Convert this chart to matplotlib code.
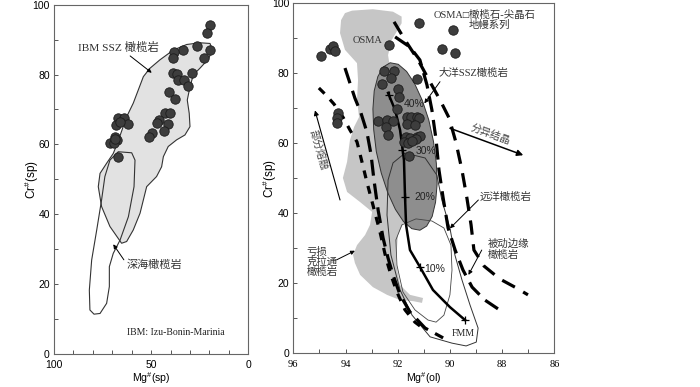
import matplotlib
matplotlib.use("Agg")
import matplotlib.pyplot as plt
from matplotlib.patches import Polygon

plt.rcParams['font.family'] = ['Liberation Sans', 'Noto Sans CJK SC', 'DejaVu Sans']
plt.rcParams['mathtext.default'] = 'regular'

CJK = ['Noto Sans CJK SC', 'DejaVu Sans']
SERIF_CJK = ['Liberation Serif', 'Noto Sans CJK SC', 'DejaVu Sans']

# ---------------- Left panel data: Mg#(sp) vs Cr#(sp) ----------------
ibm_mg = [19.7, 21.4, 19.7, 22.8, 26.2, 33.4, 38.3, 38.6, 29.2, 38.9, 36.9, 36.0,
          33.1, 30.9, 40.6, 37.7, 42.9, 40.3, 41.2, 43.4, 45.8, 47.2, 49.7, 51.1,
          66.9, 64.0, 68.1, 61.7, 66.0, 71.2, 68.6, 67.4, 69.1, 67.2, 68.6]
ibm_cr = [94.2, 91.8, 87.0, 84.6, 88.2, 87.0, 86.5, 84.6, 80.5, 80.3, 80.2, 78.4,
          78.4, 76.7, 75.1, 73.0, 68.9, 68.9, 65.8, 63.9, 67.0, 66.0, 63.2, 62.2,
          67.5, 67.5, 65.6, 65.8, 66.5, 60.3, 62.2, 61.3, 60.5, 56.3, 61.5]

ssz_field_mg = [65.2, 71.2, 75.5, 77.2, 76.3, 72.9, 69.5, 67.4, 62.6, 59.2, 56.6, 54.0,
                50.6, 45.5, 38.6, 31.7, 24.9, 19.7, 18.4, 20.6, 24.9, 28.3, 30.0, 31.4,
                30.4, 30.0, 32.6, 36.9, 41.2, 43.7, 44.6, 47.2, 52.3, 54.0, 55.7, 59.2, 62.6]
ssz_field_cr = [31.7, 36.5, 42.2, 47.9, 51.7, 54.6, 57.4, 60.3, 67.9, 71.8, 75.6, 79.4,
                81.8, 84.2, 87.0, 88.6, 89.1, 88.9, 87.0, 84.4, 81.8, 79.9, 76.5, 72.7,
                68.9, 65.1, 62.7, 61.3, 59.4, 56.5, 53.6, 50.8, 47.9, 44.1, 40.3, 35.5, 32.2]

abyssal_field_mg = [66.9, 60.0, 58.3, 58.8, 61.7, 66.0, 69.5, 71.5, 71.5, 72.9, 76.3,
                    79.4, 81.5, 81.8, 80.6, 78.0, 75.5, 73.8, 71.2]
abyssal_field_cr = [57.9, 57.6, 55.5, 47.9, 39.3, 32.6, 28.8, 25.0, 19.3, 14.5, 11.6,
                    11.4, 12.6, 18.3, 26.9, 35.5, 44.1, 50.8, 55.5]

# ---------------- Right panel data: Mg#(ol) vs Cr#(sp) ----------------
ssz_ol_mg = [94.95, 94.59, 94.46, 94.40, 91.20, 89.87, 90.30, 89.79, 92.33, 91.27,
             92.52, 92.16, 92.26, 92.59, 91.98, 91.95, 92.03, 94.28, 94.31, 94.31,
             92.74, 92.42, 92.17, 92.45, 92.39, 91.66, 91.51, 91.27, 91.17, 91.66,
             91.34, 91.68, 91.53, 91.27, 91.15, 91.30, 91.76, 91.59, 91.46, 91.57]
ssz_ol_cr = [84.8, 86.8, 87.7, 86.5, 94.5, 92.4, 86.9, 85.8, 88.2, 78.5,
             80.7, 80.6, 78.6, 77.0, 75.4, 73.2, 69.7, 68.7, 67.1, 65.9,
             66.5, 66.7, 66.5, 64.7, 62.5, 67.4, 67.4, 67.4, 67.1, 65.4,
             65.2, 61.9, 61.5, 61.9, 62.1, 61.1, 60.5, 60.0, 60.7, 56.4]

osma_field_mg = [94.02, 93.75, 92.95, 92.18, 91.85, 91.85, 92.04, 92.23, 92.37, 92.10,
                 91.91, 91.76, 91.68, 91.99, 92.07, 91.91, 91.53, 91.03, 91.07, 91.41,
                 91.91, 92.41, 92.95, 93.44, 93.64, 93.71, 93.56, 93.25, 93.06, 92.98,
                 93.44, 93.94, 94.10, 93.94, 93.83, 93.67, 93.48, 93.56, 93.52, 93.56,
                 94.02, 94.21, 94.17]
osma_field_cr = [97.2, 97.9, 98.3, 97.6, 96.2, 94.3, 91.9, 89.5, 85.2, 72.4,
                 58.1, 43.8, 38.7, 33.8, 26.1, 19.5, 16.7, 15.8, 14.4, 14.9,
                 15.2, 16.7, 18.9, 22.4, 25.8, 28.1, 30.9, 33.8, 36.7, 40.4,
                 43.2, 46.1, 50.1, 54.7, 60.9, 64.7, 67.5, 72.4, 78.1, 82.9,
                 86.7, 91.5, 95.2]

ocean_ssz_mg = [91.15, 90.89, 90.68, 90.55, 90.49, 90.52, 90.63, 90.81, 91.06, 91.35,
                91.66, 91.98, 92.29, 92.55, 92.76, 92.90, 92.95, 92.92, 92.82, 92.63,
                92.38, 92.09, 91.78, 91.46]
ocean_ssz_cr = [35.16, 36.35, 39.09, 43.19, 48.37, 54.28, 60.53, 66.68, 72.30, 77.02,
                80.53, 82.57, 83.01, 81.82, 79.08, 74.98, 69.80, 63.89, 57.64, 51.49,
                45.87, 41.15, 37.65, 35.60]

abyssal_ol_mg = [91.72, 90.95, 90.50, 90.31, 90.00, 89.81, 89.54, 89.23, 88.92, 88.99,
                 89.38, 89.92, 90.76, 91.45, 91.91, 92.26, 92.41, 92.37, 92.18]
abyssal_ol_cr = [57.2, 55.8, 50.9, 43.8, 35.8, 28.1, 21.0, 13.8, 7.2, 3.2,
                 2.1, 2.9, 4.7, 10.9, 18.1, 28.1, 39.5, 49.5, 54.4]

inner_field_mg = [91.30, 90.69, 90.23, 89.96, 89.92, 90.00, 90.23, 90.53, 90.84, 91.34,
                  91.80, 92.03, 92.07, 91.84]
inner_field_cr = [38.4, 37.8, 35.8, 30.9, 23.8, 16.7, 10.9, 8.9, 9.5, 12.4,
                  17.5, 25.2, 32.4, 36.7]

melt_mg = [92.37, 92.10, 91.91, 91.76, 91.72, 91.68, 91.53, 91.15, 90.65, 90.00, 89.42]
melt_cr = [74.4, 69.5, 63.8, 55.2, 44.7, 36.7, 29.5, 24.7, 18.1, 13.2, 9.5]
melt_tick_mg = [92.33, 91.84, 91.72, 91.15, 89.42]
melt_tick_cr = [73.8, 58.1, 44.7, 24.7, 9.5]
melt_labels = ['40%', '30%', '20%', '10%']
melt_label_mg = [91.38, 90.92, 90.95, 90.58]
melt_label_cr = [71.2, 57.8, 44.7, 24.1]

dashP_mg = [95.02, 94.75, 94.44, 94.10, 93.83, 93.56, 93.37, 93.18, 92.95, 92.68,
            92.45, 92.26, 92.03, 91.72, 91.34, 90.95]
dashP_cr = [75.8, 73.8, 71.2, 67.5, 63.8, 60.4, 54.7, 48.9, 42.4, 34.7,
            27.2, 22.4, 17.5, 12.4, 8.9, 6.7]
dashQ_mg = [94.02, 93.83, 93.64, 93.41, 93.18, 93.02, 92.91, 92.75, 92.56, 92.37,
            92.18, 91.91, 91.53, 90.95, 90.26]
dashQ_cr = [81.5, 77.2, 72.9, 68.7, 63.2, 56.7, 49.5, 40.9, 32.9, 27.2,
            22.4, 16.7, 11.8, 7.2, 4.4]
dashR1_mg = [92.10, 91.53, 91.15, 90.88, 90.69, 90.53, 90.42, 90.26, 90.07, 89.80,
             89.50, 89.15, 88.66, 88.16]
dashR1_cr = [90.4, 87.5, 83.8, 76.7, 69.5, 61.0, 52.4, 44.4, 35.8, 29.5,
             23.8, 18.9, 15.2, 12.7]
dashR2_mg = [92.14, 91.72, 91.22, 90.76, 90.38, 90.03, 89.77, 89.54, 89.35, 89.19,
             89.08, 88.69, 88.08, 87.51, 87.01]
dashR2_cr = [94.7, 89.5, 83.8, 77.5, 72.4, 67.2, 60.3, 52.4, 44.4, 36.7,
             29.5, 24.9, 21.2, 18.9, 16.7]

# ---------------- Figure ----------------
fig = plt.figure(figsize=(7.0, 3.87), dpi=100)
ax1 = fig.add_axes([0.0771, 0.0853, 0.2776, 0.9026])
ax2 = fig.add_axes([0.419, 0.0871, 0.3729, 0.9044])

for ax in (ax1, ax2):
    for s in ax.spines.values():
        s.set_color('#666666')
        s.set_linewidth(0.8)
    ax.tick_params(which='both', direction='in', color='#555555', width=0.7,
                   labelsize=7.5)
    ax.tick_params(axis='x', which='both', pad=4.5)
    ax.tick_params(axis='y', which='both', pad=3)
    ax.tick_params(which='major', length=3)
    ax.tick_params(which='minor', length=3)

# ----- Left panel -----
ax1.set_xlim(100, 0)
ax1.set_ylim(0, 100)
ax1.set_xticks([100, 50, 0])
ax1.set_xticks(range(0, 101, 10), minor=True)
ax1.set_yticks(range(0, 101, 20))
ax1.set_yticks(range(0, 101, 10), minor=True)

ax1.add_patch(Polygon(list(zip(ssz_field_mg, ssz_field_cr)), closed=True,
                      facecolor='#e2e2e2', edgecolor='#333333', lw=0.8, zorder=1))
ax1.add_patch(Polygon(list(zip(abyssal_field_mg, abyssal_field_cr)), closed=True,
                      facecolor='none', edgecolor='#333333', lw=0.8, zorder=2))
ax1.scatter(ibm_mg, ibm_cr, s=46, facecolor='#3d3d3d', edgecolor='#1c1c1c',
            lw=0.6, zorder=3)

ax1.annotate('IBM SSZ 橄榄岩', xy=(49.7, 80.5), xytext=(87.6, 87.7),
             ha='left', va='center', fontsize=8.2, family=SERIF_CJK, color='#333333',
             arrowprops=dict(arrowstyle='-|>', color='k', lw=0.7, mutation_scale=6,
                             shrinkA=0, shrinkB=0, relpos=(0.6, 0.0)))
ax1.annotate('深海橄榄岩', xy=(69.5, 31.4), xytext=(62.6, 25.5),
             ha='left', va='center', fontsize=8, family=CJK, color='#333333',
             arrowprops=dict(arrowstyle='-|>', color='k', lw=0.7, mutation_scale=6,
                             shrinkA=0, shrinkB=0, relpos=(0.0, 0.6)))
ax1.text(62.6, 6.1, 'IBM: Izu-Bonin-Marinia', ha='left', va='center',
         fontsize=7, family=['Liberation Serif'], color='#222222')

ax1.set_xlabel(r'Mg$^{\#}$(sp)', fontsize=7.6)
ax1.set_ylabel(r'Cr$^{\#}$(sp)', fontsize=8.5)
ax1.xaxis.set_label_coords(0.5, -0.07)
ax1.xaxis.label.set_va('center')
ax1.yaxis.set_label_coords(-0.113, 0.5)
ax1.yaxis.label.set_va('center')

# ----- Right panel -----
ax2.set_xlim(96, 86)
ax2.set_ylim(0, 100)
ax2.set_xticks(range(86, 97, 2))
ax2.set_xticks(range(86, 97, 1), minor=True)
ax2.set_yticks(range(0, 101, 20))
ax2.set_yticks(range(0, 101, 10), minor=True)
for lab in ax2.get_xticklabels():
    lab.set_fontfamily('Liberation Serif')
    lab.set_fontsize(7.5)

ax2.add_patch(Polygon(list(zip(osma_field_mg, osma_field_cr)), closed=True,
                      facecolor='#c6c6c6', edgecolor='none', zorder=1))
ax2.add_patch(Polygon(list(zip(ocean_ssz_mg, ocean_ssz_cr)), closed=True,
                      facecolor='#8e8e8e', edgecolor='#333333', lw=0.7, zorder=2))
ax2.add_patch(Polygon(list(zip(abyssal_ol_mg, abyssal_ol_cr)), closed=True,
                      facecolor='none', edgecolor='#333333', lw=0.7, zorder=3))
ax2.add_patch(Polygon(list(zip(inner_field_mg, inner_field_cr)), closed=True,
                      facecolor='none', edgecolor='#444444', lw=0.6, zorder=3))

dash_kw = dict(color='k', lw=2.3, solid_capstyle='butt', dash_capstyle='butt', zorder=4)
ax2.plot(dashP_mg, dashP_cr, linestyle=(0, (2.5, 2.5)), **dash_kw)
ax2.plot(dashQ_mg, dashQ_cr, linestyle=(0, (5, 2.5)), **dash_kw)
ax2.plot(dashR1_mg, dashR1_cr, linestyle=(0, (5, 2.5)), **dash_kw)
ax2.plot(dashR2_mg, dashR2_cr, linestyle=(0, (4.5, 3)), **dash_kw)

ax2.plot(melt_mg, melt_cr, color='k', lw=1.8, zorder=5)
ax2.scatter(melt_tick_mg, melt_tick_cr, marker='+', s=40, color='k', lw=0.9, zorder=6)
for lab, x, y in zip(melt_labels, melt_label_mg, melt_label_cr):
    ax2.text(x, y, lab, ha='center', va='center', fontsize=7.5, color='#222222', zorder=7)
ax2.text(89.49, 5.7, 'FMM', ha='center', va='center', fontsize=7,
         family=['Liberation Serif'], color='#222222', zorder=7)

ax2.scatter(ssz_ol_mg, ssz_ol_cr, s=46, facecolor='#3d3d3d', edgecolor='#1c1c1c',
            lw=0.6, zorder=6)

ax2.text(93.16, 89.5, 'OSMA', ha='center', va='center', fontsize=7.5,
         family=['Liberation Serif'], color='#333333', zorder=7)
ax2.text(90.64, 96.7, 'OSMA□橄榄石-尖晶石', ha='left', va='center', fontsize=7.5,
         family=SERIF_CJK, color='#333333')
ax2.text(89.3, 93.9, '地幔系列', ha='left', va='center', fontsize=7.5,
         family=CJK, color='#333333')

arr = dict(arrowstyle='-|>', color='k', lw=0.7, mutation_scale=6, shrinkA=0, shrinkB=0)
ax2.annotate('', xy=(90.98, 71.4), xytext=(90.38, 77.6), arrowprops=arr, zorder=8)
ax2.text(90.44, 80.0, '大洋SSZ橄榄岩', ha='left', va='center', fontsize=7.5,
         family=SERIF_CJK, color='#333333')

ax2.annotate('', xy=(90.0, 35.7), xytext=(88.91, 43.8), arrowprops=arr, zorder=8)
ax2.text(88.85, 44.7, '远洋橄榄岩', ha='left', va='center', fontsize=7.5,
         family=CJK, color='#333333')

ax2.annotate('', xy=(89.29, 22.4), xytext=(88.78, 29.5), arrowprops=arr, zorder=8)
ax2.text(88.54, 31.4, '被动边缘', ha='left', va='center', fontsize=7.5,
         family=CJK, color='#333333')
ax2.text(88.54, 28.2, '橄榄岩', ha='left', va='center', fontsize=7.5,
         family=CJK, color='#333333')

ax2.annotate('', xy=(93.64, 29.3), xytext=(94.34, 26.7), arrowprops=arr, zorder=8)
for t, y in zip(['亏损', '克拉通', '橄榄岩'], [29.0, 26.2, 23.3]):
    ax2.text(95.49, y, t, ha='left', va='center', fontsize=7.5, family=CJK,
             color='#333333')

ax2.annotate('', xy=(95.17, 69.4), xytext=(94.21, 43.8),
             arrowprops=dict(arrowstyle='-|>', color='k', lw=0.8, mutation_scale=7,
                             shrinkA=0, shrinkB=0))
ax2.text(95.05, 58.1, '部分熔融', ha='center', va='center', fontsize=7.5,
         family=CJK, color='#444444', rotation=-74)

ax2.annotate('', xy=(87.19, 56.6), xytext=(90.0, 64.3),
             arrowprops=dict(arrowstyle='-|>', color='k', lw=1.1, mutation_scale=9,
                             shrinkA=0, shrinkB=0))
ax2.text(88.46, 62.6, '分异结晶', ha='center', va='center', fontsize=7.5,
         family=CJK, color='#444444', rotation=-20)

ax2.set_xlabel(r'Mg$^{\#}$(ol)', fontsize=7.6)
ax2.set_ylabel(r'Cr$^{\#}$(sp)', fontsize=8.5)
ax2.xaxis.set_label_coords(0.5, -0.07)
ax2.xaxis.label.set_va('center')
ax2.yaxis.set_label_coords(-0.089, 0.5)
ax2.yaxis.label.set_va('center')

fig.savefig('out.png', dpi=100)
